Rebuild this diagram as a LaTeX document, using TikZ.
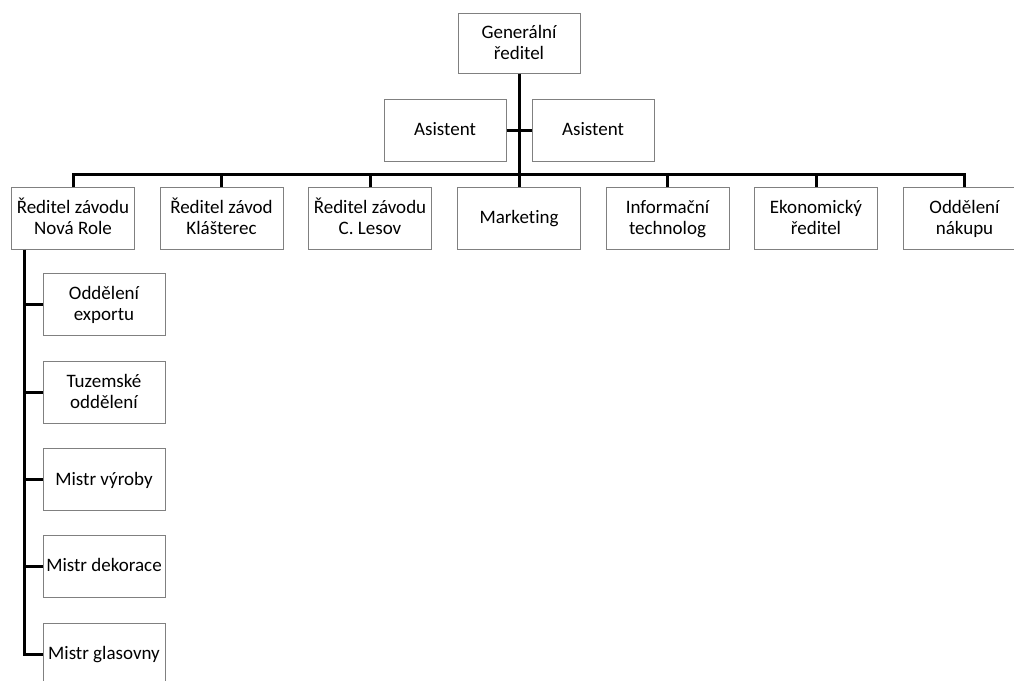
\documentclass[tikz,border=0pt]{standalone}
\usepackage{fontspec}
\setmainfont{Carlito}[Ligatures={NoCommon}]
\begin{document}
\begin{tikzpicture}[x=1pt,y=-1pt,
  box/.style={draw={rgb,255:red,128;green,128;blue,128},line width=1pt,fill=white,
    minimum width=123pt,minimum height=62pt,inner sep=0pt,align=center,
    text height=14pt,text depth=3pt,
    font=\fontsize{19}{21}\selectfont},
  twoline/.style={text height=35pt},
  link/.style={line width=3pt,draw=black,line join=miter}]
\useasboundingbox (0,0) rectangle (1014,680);
\node[box,twoline,minimum width=122pt,minimum height=60pt] (gd) at (519,43) {Generální\\ředitel};
\node[box,minimum width=122pt] (asl) at (445,130) {Asistent};
\node[box,minimum width=122pt] (asr) at (593,130) {Asistent};
\node[box,twoline] (n1) at (73,218) {Ředitel závodu\\Nová Role};
\node[box,twoline] (n2) at (221.5,218) {Ředitel závod\\Klášterec};
\node[box,twoline] (n3) at (370,218) {Ředitel závodu\\C. Lesov};
\node[box] (n4) at (519,218) {Marketing};
\node[box,twoline] (n5) at (667.5,218) {Informační\\technolog};
\node[box,twoline] (n6) at (816,218) {Ekonomický\\ředitel};
\node[box,twoline] (n7) at (964.5,218) {Oddělení\\nákupu};
\node[box,twoline,minimum width=122pt] (s1) at (104,304) {Oddělení\\exportu};
\node[box,twoline,minimum width=122pt] (s2) at (104,392) {Tuzemské\\oddělení};
\node[box,minimum width=122pt] (s3) at (104,479.5) {Mistr výroby};
\node[box,minimum width=122pt] (s4) at (104,566) {Mistr dekorace};
\node[box,minimum width=122pt] (s5) at (104,654) {Mistr glasovny};
\coordinate (bus) at (0,174);
\coordinate (sx) at (24,0);
\draw[link] (gd.south) -- (n4.north);
\draw[link] (asl.east) -- (asr.west);
\foreach \n in {n1,n2,n3,n5,n6,n7}{
  \draw[link] (gd.south |- bus) -| (\n.north);
}
\draw[link] (n1.south -| sx) |- (s5.west);
\foreach \s in {s1,s2,s3,s4}{
  \draw[link] (sx |- \s.west) -- (\s.west);
}
\end{tikzpicture}
\end{document}
